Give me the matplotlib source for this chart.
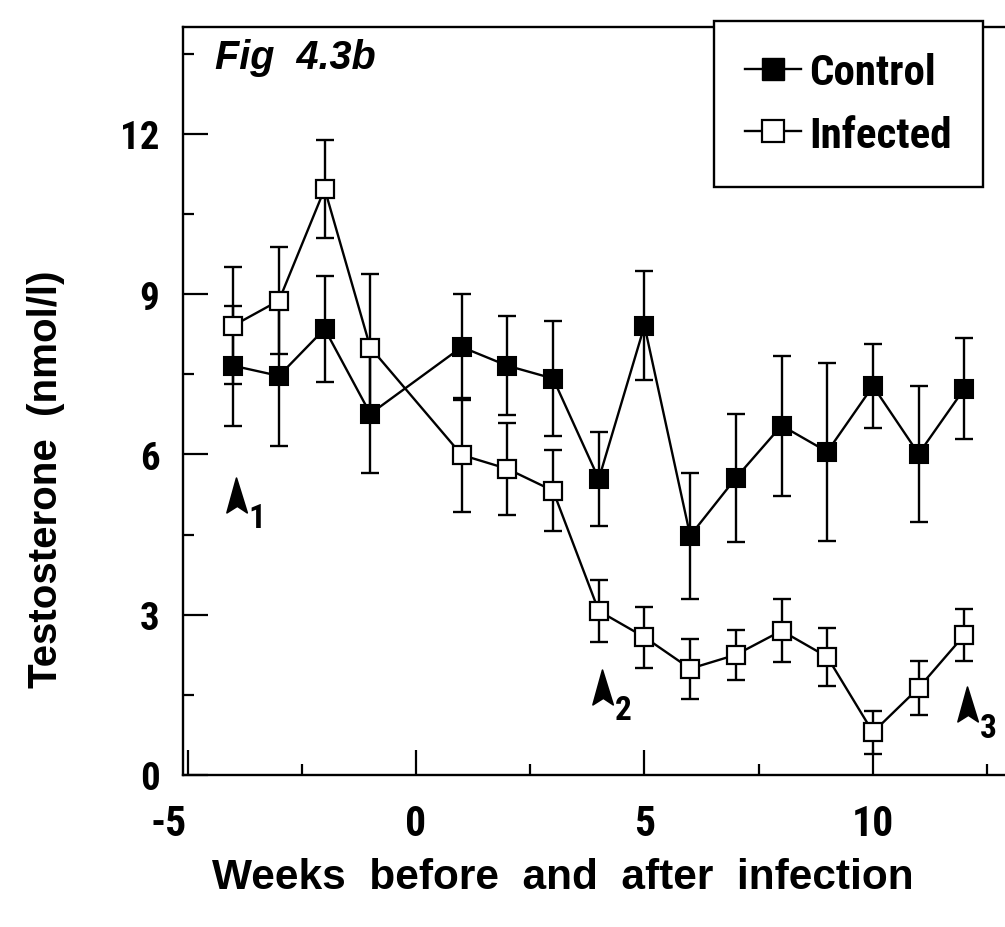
import matplotlib
matplotlib.use("Agg")
import matplotlib.pyplot as plt
from matplotlib.path import Path
from matplotlib.lines import Line2D
from matplotlib.transforms import ScaledTranslation
from matplotlib import font_manager as fm

# ---------------- data ----------------
weeks = [-4, -3, -2, -1, 1, 2, 3, 4, 5, 6, 7, 8, 9, 10, 11, 12]
control_mean = [7.66, 7.47, 8.35, 6.76, 8.01, 7.66, 7.42, 5.54, 8.41, 4.48, 5.56, 6.54, 6.05, 7.28, 6.01, 7.23]
control_err = [1.12, 1.31, 0.99, 1.10, 1.00, 0.93, 1.08, 0.88, 1.02, 1.18, 1.19, 1.31, 1.67, 0.78, 1.28, 0.94]
infected_mean = [8.41, 8.88, 10.97, 8.00, 5.99, 5.73, 5.32, 3.07, 2.58, 1.99, 2.25, 2.70, 2.21, 0.80, 1.63, 2.62]
infected_err = [1.10, 1.00, 0.92, 1.38, 1.07, 0.86, 0.76, 0.58, 0.57, 0.56, 0.47, 0.59, 0.55, 0.40, 0.51, 0.49]

x_major = [-5, 0, 5, 10]
x_minor = [-2.5, 2.5, 7.5, 12.5]
y_major = [0, 3, 6, 9, 12]
y_minor = [1.5, 4.5, 7.5, 10.5, 13.5]

arrow_x = [-3.94, 4.07, 12.06]
arrow_y = [5.25, 1.65, 1.33]
arrow_labels = ["1", "2", "3"]

title_text = "Fig  4.3b"
xlabel_text = "Weeks  before  and  after  infection"
ylabel_text = "Testosterone  (nmol/l)"
series_names = ["Control", "Infected"]


def pick(names):
    for n in names:
        try:
            fm.findfont(fm.FontProperties(family=n), fallback_to_default=False)
            return n
        except Exception:
            continue
    return "DejaVu Sans"


NARROW = pick(["Liberation Sans Narrow", "Roboto Condensed", "Liberation Sans"])
WIDE = pick(["Liberation Sans", "Arial", "DejaVu Sans"])

plt.rcParams["font.family"] = [NARROW, "DejaVu Sans"]
plt.rcParams["font.weight"] = "bold"

W, H = 1005, 928
fig = plt.figure(figsize=(W / 100, H / 100), dpi=100)
left_px, top_px, bottom_px = 183, 28, 776
ax = fig.add_axes([left_px / W, (H - bottom_px) / H, (W - left_px) / W, (bottom_px - top_px) / H])

ax.set_xlim(-5.10, 12.89)
ax.set_ylim(0, 14)

lw = 1.7
ms = 13.5
ax.errorbar(weeks, control_mean, yerr=control_err, fmt="none", ecolor="black",
            elinewidth=lw, capsize=6.5, capthick=lw, zorder=2)
ax.errorbar(weeks, infected_mean, yerr=infected_err, fmt="none", ecolor="black",
            elinewidth=lw, capsize=6.5, capthick=lw, zorder=2)
ax.plot(weeks, control_mean, color="black", lw=lw, marker="s", ms=ms,
        mfc="black", mec="black", mew=1.5, zorder=3)
ax.plot(weeks, infected_mean, color="black", lw=lw, marker="s", ms=ms,
        mfc="white", mec="black", mew=1.6, zorder=4)

# arrowhead markers with subscripts
arrow_path = Path([(0, 1.0), (0.62, -1.0), (0.05, -0.62), (-0.55, -1.0), (0, 1.0)],
                  [Path.MOVETO, Path.LINETO, Path.LINETO, Path.LINETO, Path.CLOSEPOLY])
ax.plot(arrow_x, arrow_y, ls="none", marker=arrow_path, ms=25, mfc="black", mec="black",
        mew=1.2, zorder=5)
for xa, ya, lab in zip(arrow_x, arrow_y, arrow_labels):
    ax.annotate(lab, (xa, ya), xytext=(9, -17), textcoords="offset points",
                fontsize=24, fontweight="bold", ha="left", va="center", family=[NARROW])

# spines
for s in ["left", "bottom", "top"]:
    ax.spines[s].set_linewidth(1.7)
ax.spines["right"].set_visible(False)

ax.set_xticks(x_major)
ax.set_xticks(x_minor, minor=True)
ax.set_yticks(y_major)
ax.set_yticks(y_minor, minor=True)
ax.tick_params(axis="both", which="major", direction="in", width=1.6, length=18)
ax.tick_params(axis="both", which="minor", direction="in", width=1.6, length=8)
ax.tick_params(axis="x", which="major", labelsize=30, pad=20)
ax.tick_params(axis="y", which="major", labelsize=28, pad=17)
ax.tick_params(top=False, right=False, which="both")
ax.set_xticklabels([str(v) for v in x_major])
ax.set_yticklabels([str(v) for v in y_major])
for t in ax.get_xticklabels() + ax.get_yticklabels():
    t.set_fontweight("bold")
# nudge the "-5" label left
lab0 = ax.get_xticklabels()[0]
lab0.set_transform(lab0.get_transform() + ScaledTranslation(-19 / 100, 0, fig.dpi_scale_trans))

fig.text(563 / W, 1 - 878 / H, xlabel_text, fontsize=30.5, fontweight="bold",
         ha="center", va="center", family=[WIDE])
fig.text(46 / W, 1 - 479 / H, ylabel_text, fontsize=29, fontweight="bold",
         ha="center", va="center", rotation=90, family=[WIDE])
ax.text(215 / W, 1 - 58 / H, title_text, transform=fig.transFigure, fontsize=28.5,
        fontweight="bold", style="italic", ha="left", va="center", family=[WIDE])

handles = [
    Line2D([], [], color="black", lw=lw, marker="s", ms=16, mfc="black", mec="black"),
    Line2D([], [], color="black", lw=lw, marker="s", ms=16, mfc="white", mec="black", mew=1.6),
]
leg = fig.legend(handles, series_names, loc="upper right", bbox_to_anchor=(983 / W, 1 - 22 / H),
                 bbox_transform=fig.transFigure, prop=fm.FontProperties(family=NARROW, weight="bold", size=31),
                 handlelength=1.3, handletextpad=0.2, labelspacing=0.5, borderpad=0.72,
                 borderaxespad=0, fancybox=False, framealpha=1, edgecolor="black")
leg.get_frame().set_linewidth(1.7)

fig.savefig("out.png", dpi=100)
